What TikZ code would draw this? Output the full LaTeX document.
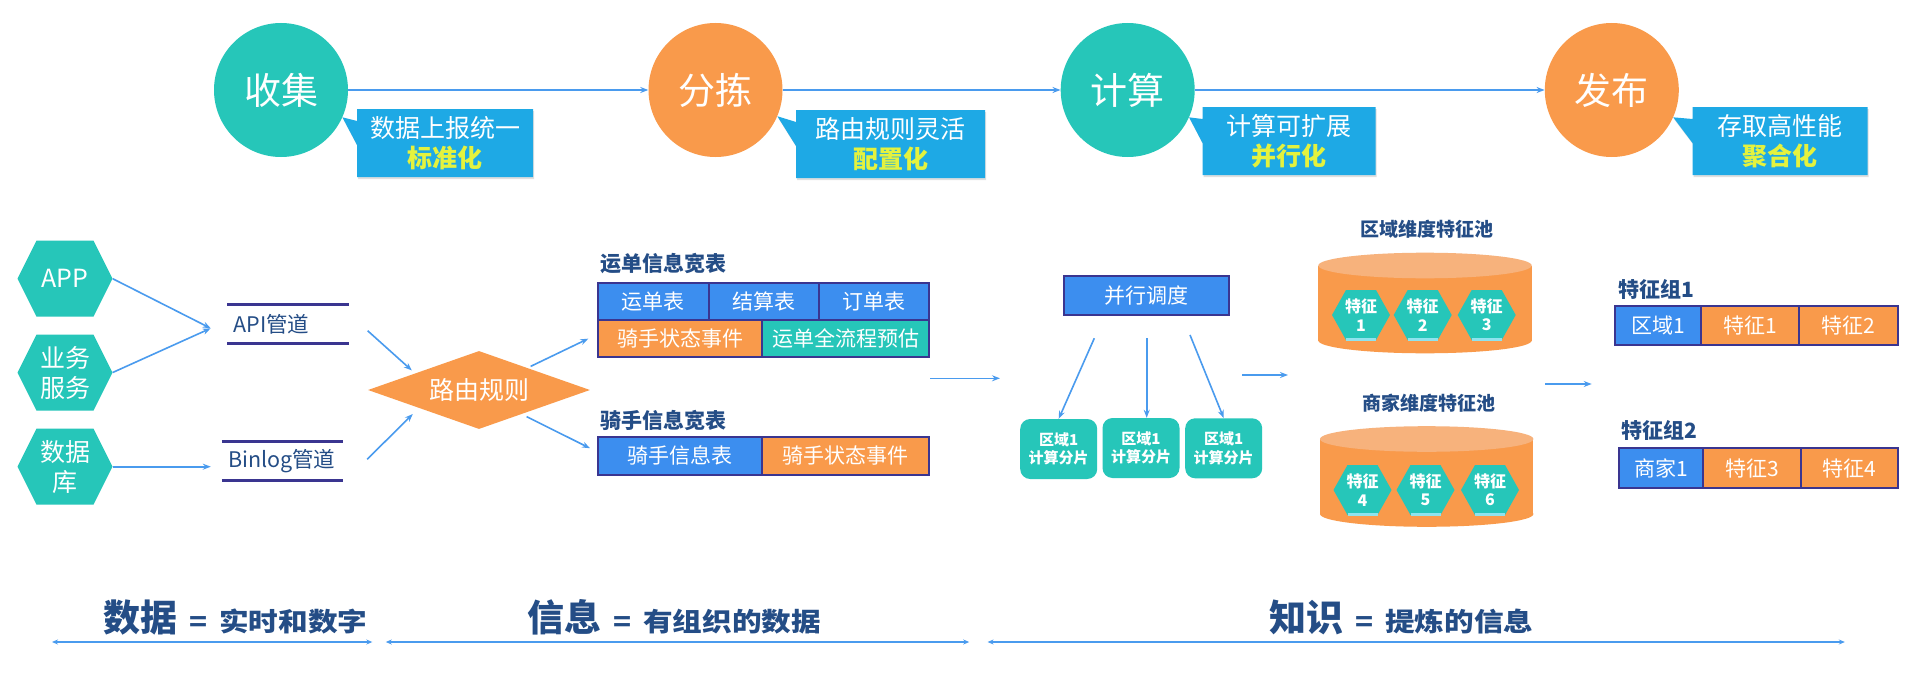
\documentclass[tikz,border=0pt]{standalone}
\usepackage{fontspec}
\setmainfont{Noto Sans CJK SC}
\newfontfamily\widefont[FakeStretch=1.14]{Noto Sans CJK SC}
\usepackage{xcolor}
\usepackage{tikz}
\usetikzlibrary{shapes.geometric,shapes.callouts,shadows,positioning,arrows.meta}

\definecolor{mint}{HTML}{26C6B9}
\definecolor{peach}{HTML}{F99A4B}
\definecolor{peachtop}{HTML}{F7B27C}
\definecolor{cellblue}{HTML}{3C8EEF}
\definecolor{noteblue}{HTML}{1EA9E5}
\definecolor{lime}{HTML}{E4F23E}
\definecolor{indigo}{HTML}{3A3590}
\definecolor{navy}{HTML}{244D86}
\definecolor{flowblue}{HTML}{4A9BEE}
\definecolor{glow}{HTML}{8FE3EE}

\newcommand{\hexfill}[2]{\fill[#1] (path picture bounding box.west)
  -- ([xshift=#2]path picture bounding box.north west)
  -- ([xshift=-#2]path picture bounding box.north east)
  -- (path picture bounding box.east)
  -- ([xshift=-#2]path picture bounding box.south east)
  -- ([xshift=#2]path picture bounding box.south west) -- cycle;}
\newcommand{\pool}[3]{%
  \fill[peach] (#1-106.7,#2) rectangle (#1+106.7,#3);
  \fill[peach] (#1,#3) ellipse [x radius=106.7, y radius=12.8];
  \fill[peachtop] (#1,#2) ellipse [x radius=106.7, y radius=12.8];}

\tikzstyle{stagebox}=[circle, minimum size=134pt, inner sep=0pt, text=white,
    font=\fontsize{37}{44}\selectfont]
\tikzstyle{notebox}=[rectangle callout, fill=noteblue, text=white, minimum height=68pt,
    inner sep=0pt, align=center, callout pointer width=24pt,
    font=\fontsize{25}{30}\selectfont,
    drop shadow={shadow xshift=1pt, shadow yshift=-2pt, opacity=0.25}]
\tikzstyle{srchex}=[minimum width=95pt, minimum height=76pt, inner sep=0pt, text=white,
    align=center, font=\fontsize{25}{30}\selectfont,
    path picture={\hexfill{mint}{19pt}}]
\tikzstyle{feathex}=[minimum width=58pt, minimum height=50pt, inner sep=0pt, text=white,
    align=center, font=\fontsize{16}{18.3}\selectfont\bfseries,
    path picture={\hexfill{mint}{14pt}
      \draw[glow, line width=4pt] ([xshift=14pt]path picture bounding box.south west)
        -- ([xshift=-14pt]path picture bounding box.south east);}]
\tikzstyle{pipebox}=[minimum height=38.3pt, inner xsep=6pt, inner ysep=0pt, text width=109pt,
    align=left, text=navy, font=\fontsize{21.5}{26}\selectfont]
\tikzstyle{pipeline}=[indigo, line width=3pt]
\tikzstyle{rulebox}=[diamond, aspect=2.85, fill=peach, minimum width=222pt, minimum height=78pt,
    inner sep=0pt, text=white, font=\fontsize{25}{30}\selectfont]
\tikzstyle{cellbox}=[draw=indigo, line width=1.8pt, minimum height=37.3pt, inner sep=0pt,
    outer sep=0pt, text=white, font=\fontsize{21}{25}\selectfont]
\tikzstyle{headtext}=[anchor=west, inner sep=0pt, text=navy, font=\fontsize{21}{25}\selectfont\bfseries]
\tikzstyle{poolhead}=[inner sep=0pt, text=navy, font=\fontsize{19}{23}\selectfont\bfseries]
\tikzstyle{shardbox}=[fill=mint, rounded corners=10pt, minimum width=77pt, minimum height=60pt,
    inner sep=0pt, text=white, align=center, font=\fontsize{15}{18.3}\selectfont\bfseries]
\tikzstyle{flowarrow}=[flowblue, line width=1.6pt, -{Stealth[length=8pt,width=6pt]}]
\tikzstyle{spanarrow}=[flowblue, line width=1.6pt,
    {Stealth[length=6pt,width=5pt]}-{Stealth[length=6pt,width=5pt]}]
\tikzstyle{lawtext}=[anchor=base west, inner sep=0pt, text=navy]

\begin{document}
\begin{tikzpicture}[x=1pt, y=-1pt]
    \fill[white] (0,0) rectangle (1920,693);
    \useasboundingbox (0,0) rectangle (1920,693);

    \node[stagebox, fill=mint] (collect) at (281,90) {收集};
    \node[stagebox, fill=peach] (sort) at (715.5,90) {分拣};
    \node[stagebox, fill=mint] (compute) at (1127.7,90) {计算};
    \node[stagebox, fill=peach] (publish) at (1611.8,90) {发布};
    \draw[flowarrow] (collect) -- (sort);
    \draw[flowarrow] (sort) -- (compute);
    \draw[flowarrow] (compute) -- (publish);

    \node[notebox, minimum width=176pt, callout absolute pointer={(collect.-24)}] (collectnote)
        at (445,143) {数据上报统一\\{\color{lime}\bfseries 标准化}};
    \node[notebox, minimum width=189pt, callout absolute pointer={(sort.-23)}] (sortnote)
        at (890.5,144) {路由规则灵活\\{\color{lime}\bfseries 配置化}};
    \node[notebox, minimum width=173pt, callout absolute pointer={(compute.-24)}] (computenote)
        at (1289,141) {计算可扩展\\{\color{lime}\bfseries 并行化}};
    \node[notebox, minimum width=175pt, callout absolute pointer={(publish.-24)}] (publishnote)
        at (1780,141) {存取高性能\\{\color{lime}\bfseries 聚合化}};

    % sources and pipes
    \node[srchex] (app) at (65,278.7) {APP};
    \node[srchex] (biz) at (65,372.5) {业务\\服务};
    \node[srchex] (db) at (65,466.7) {数据\\库};
    \node[pipebox] (api) at (287.9,324.2) {API管道};
    \node[pipebox] (binlog) at (282.5,461.3) {Binlog管道};
    \draw[pipeline] (api.north west) -- (api.north east) (api.south west) -- (api.south east);
    \draw[pipeline] (binlog.north west) -- (binlog.north east) (binlog.south west) -- (binlog.south east);
    \coordinate (merge) at (210.7,328.3);
    \draw[flowarrow] (app.east) -- (merge);
    \draw[flowarrow] (biz.east) -- (merge);
    \draw[flowarrow, shorten >=11pt] (db.east) -- (db.east -| binlog.west);

    \node[rulebox] (route) at (479,390) {路由规则};
    \draw[flowarrow] ([xshift=19pt,yshift=-6.5pt]api.east) -- ([xshift=-11.6pt]route.north west);
    \draw[flowarrow] ([xshift=24pt,yshift=2pt]binlog.east) -- ([xshift=-10.6pt,yshift=-4.4pt]route.south west);

    % wide tables
    \node[headtext] (waybillhead) at (600,263.3) {运单信息宽表};
    \node[cellbox, fill=cellblue, minimum width=111.3pt, anchor=north west] (waybill) at (597.7,282.7) {运单表};
    \node[cellbox, fill=cellblue, minimum width=110.3pt, right=0pt of waybill] (settle) {结算表};
    \node[cellbox, fill=cellblue, minimum width=110pt, right=0pt of settle] (order) {订单表};
    \node[cellbox, fill=peach, minimum width=164.6pt, anchor=north west] (wstate) at (waybill.south west) {骑手状态事件};
    \node[cellbox, fill=mint, minimum width=167pt, right=0pt of wstate] (estimate) {运单全流程预估};

    \node[headtext] (riderhead) at (600,420) {骑手信息宽表};
    \node[cellbox, fill=cellblue, minimum width=164pt, minimum height=38.3pt, anchor=north west] (rider) at (597.7,436.7) {骑手信息表};
    \node[cellbox, fill=peach, minimum width=167.6pt, minimum height=38.3pt, right=0pt of rider] (rstate) {骑手状态事件};
    \draw[flowarrow] ([xshift=-4pt,yshift=4pt]route.north east) -- ([xshift=-9.4pt]wstate.west);
    \draw[flowarrow] ([xshift=-8pt,yshift=-7pt]route.south east) -- ([xshift=-7.7pt,yshift=7.6pt]rider.west);

    % parallel compute
    \coordinate (toparl) at (930,378.3);
    \coordinate (toparr) at (1000,378.3);
    \draw[flowarrow] (toparl) -- (toparr);
    \node[cellbox, fill=cellblue, minimum width=164.7pt, minimum height=39.3pt] (parallel) at (1146.7,295.3) {并行调度};
    \node[shardbox] (shard1) at (1058.7,449) {区域1\\计算分片};
    \node[shardbox] (shard2) at (1141,448) {区域1\\计算分片};
    \node[shardbox] (shard3) at (1223.7,448.3) {区域1\\计算分片};
    \draw[flowarrow] ([xshift=-52.4pt,yshift=-23.3pt]parallel.south) -- (shard1.north);
    \draw[flowarrow] ([yshift=-23.3pt]parallel.south) -- (parallel.south |- shard2.north);
    \draw[flowarrow] ([xshift=43.3pt,yshift=-20pt]parallel.south) -- (shard3.north);

    % feature pools
    \coordinate (topooll) at (1242,375);
    \coordinate (topoolr) at (1288,375);
    \draw[flowarrow] (topooll) -- (topoolr);
    \node[poolhead] (zonehead) at (1426.7,229.3) {区域维度特征池};
    \pool{1425}{265.5}{340.5}
    \node[feathex] (feature1) at (1361,315) {特征\\1};
    \node[feathex] (feature2) at (1422.7,315) {特征\\2};
    \node[feathex] (feature3) at (1486.7,315) {特征\\3};
    \node[poolhead] (shophead) at (1429.3,403.3) {商家维度特征池};
    \pool{1426.7}{439}{514}
    \node[feathex] (feature4) at (1362.5,490) {特征\\4};
    \node[feathex] (feature5) at (1425.5,490) {特征\\5};
    \node[feathex] (feature6) at (1490,490) {特征\\6};

    % feature groups
    \coordinate (togroupl) at (1545,384);
    \coordinate (togroupr) at (1591.7,384);
    \draw[flowarrow] (togroupl) -- (togroupr);
    \node[headtext] (group1head) at (1618.3,289.3) {特征组1};
    \node[cellbox, fill=cellblue, minimum width=86pt, minimum height=39pt, anchor=north west] (zone1) at (1615,306) {区域1};
    \node[cellbox, fill=peach, minimum width=98.3pt, minimum height=39pt, right=0pt of zone1] (feat1) {特征1};
    \node[cellbox, fill=peach, minimum width=98.4pt, minimum height=39pt, right=0pt of feat1] (feat2) {特征2};
    \node[headtext] (group2head) at (1621,430) {特征组2};
    \node[cellbox, fill=cellblue, minimum width=84.3pt, minimum height=40pt, anchor=north west] (shop1) at (1619,448.3) {商家1};
    \node[cellbox, fill=peach, minimum width=97.7pt, minimum height=40pt, right=0pt of shop1] (feat3) {特征3};
    \node[cellbox, fill=peach, minimum width=97.3pt, minimum height=40pt, right=0pt of feat3] (feat4) {特征4};

    % data / information / knowledge
    \coordinate (datal) at (52,642);
    \coordinate (datar) at (372.3,642);
    \coordinate (infol) at (385.8,642);
    \coordinate (infor) at (969.2,642);
    \coordinate (knowl) at (987.6,642);
    \coordinate (knowr) at (1844.8,642);
    \draw[spanarrow] (datal) -- (datar);
    \draw[spanarrow] (infol) -- (infor);
    \draw[spanarrow] (knowl) -- (knowr);
    \node[lawtext] (datalaw) at (103,631) {{\fontsize{37}{40}\selectfont\bfseries 数据}\hspace{12pt}{\widefont\bfseries\fontsize{26}{30}\selectfont =\hspace{12pt}实时和数字}};
    \node[lawtext] (infolaw) at (527,631) {{\fontsize{37}{40}\selectfont\bfseries 信息}\hspace{12pt}{\widefont\bfseries\fontsize{26}{30}\selectfont =\hspace{12pt}有组织的数据}};
    \node[lawtext] (knowlaw) at (1269,631) {{\fontsize{37}{40}\selectfont\bfseries 知识}\hspace{12pt}{\widefont\bfseries\fontsize{26}{30}\selectfont =\hspace{12pt}提炼的信息}};
\end{tikzpicture}
\end{document}
